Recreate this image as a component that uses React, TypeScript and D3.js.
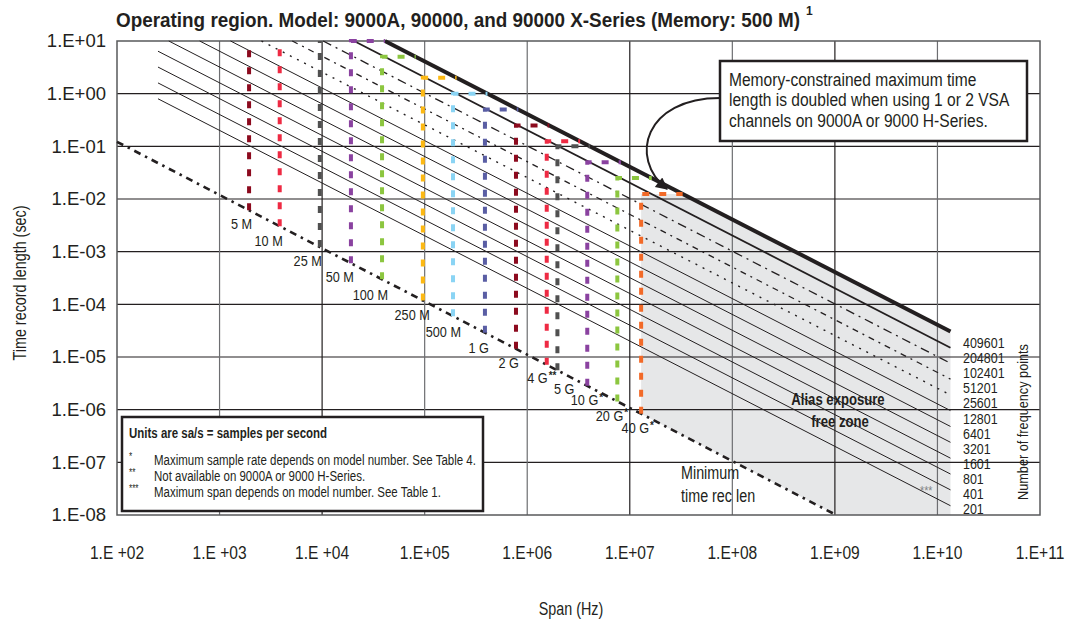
import { useEffect, useRef } from "react";
import * as d3 from "d3";

// axis ticks
const xTickValues = [1e2, 1e3, 1e4, 1e5, 1e6, 1e7, 1e8, 1e9, 1e10, 1e11];
const xTickLabels = ["1.E +02", "1.E +03", "1.E +04", "1.E+05", "1.E+06", "1.E+07", "1.E+08", "1.E+09", "1.E+10", "1.E+11"];
const yTickValues = [1e1, 1e0, 1e-1, 1e-2, 1e-3, 1e-4, 1e-5, 1e-6, 1e-7, 1e-8];
const yTickLabels = ["1.E+01", "1.E+00", "1.E-01", "1.E-02", "1.E-03", "1.E-04", "1.E-05", "1.E-06", "1.E-07", "1.E-08"];

// number of frequency points lines (start point and end point)
const freqPoints = ["201", "401", "801", "1601", "3201", "6401", "12801", "25601", "51201", "102401", "204801", "409601"];
const lineStartSpan = [251, 251, 251, 251, 320, 640, 1280, 2560, 5120, 10240, 20480, 40960];
const lineStartTime = [0.8, 1.6, 3.2, 6.4, 10, 10, 10, 10, 10, 10, 10, 10];
const lineEndSpan = 1.34e10;
const lineEndTime = [1.5e-8, 3.0e-8, 6.0e-8, 1.2e-7, 2.4e-7, 4.8e-7, 9.6e-7, 1.9e-6, 3.8e-6, 7.6e-6, 1.5e-5, 3.06e-5];

// minimum time record length line
const minTimeLine: [number, number][] = [[100, 0.122], [1.03e9, 1e-8]];

// sample rates
const rateLabels = ["5 M", "10 M", "25 M", "50 M", "100 M", "250 M", "500 M", "1 G", "2 G", "4 G", "5 G", "10 G", "20 G", "40 G"];
const rateNotes = ["", "", "", "", "", "", "", "", "", "**", "", "*", "*", "*"];
const rateSpan = [1.94e3, 3.86e3, 9.5e3, 1.91e4, 3.84e4, 9.6e4, 1.89e5, 3.87e5, 7.77e5, 1.55e6, 1.97e6, 3.85e6, 7.56e6, 1.29e7];
const rateMaxTime = [100, 50, 20, 10, 5, 2, 1, 0.5, 0.25, 0.125, 0.1, 0.05, 0.025, 0.0125];
const rateColors = ["#8c0a1e", "#ee2a43", "#505050", "#8a42a0", "#8cc63f", "#fdb913", "#8ad4f4", "#5a5ea4", "#8c0a1e", "#ee2a43", "#505050", "#8a42a0", "#8cc63f", "#f26a28"];

const footnotes = [
  ["*", "Maximum sample rate depends on model number.  See Table 4."],
  ["**", "Not available on 9000A or 9000 H-Series."],
  ["***", "Maximum span depends on model number. See Table 1."],
];
const calloutLines = ["Memory-constrained maximum time", "length is doubled when using 1 or 2 VSA", "channels on 9000A or 9000 H-Series."];

const FONT = "'Liberation Sans', Arial, sans-serif";
const INK = "#231f20";

// label nudges (px) for the sample rate labels
const rateLabelDx = [3, 3, 2, 3, 6, 7, 8, 4, 3, 1, 17, 11, 6, 8];
const rateLabelDy = [13, 14, 14, 13, 15, 14, 15, 15, 14, 13, 18, 14, 14, 14];

type Sel = d3.Selection<any, unknown, null, undefined>;

// condensed text: Liberation Sans squeezed horizontally
const txt = (
  parent: Sel, x: number, y: number, s: string, size: number,
  o: { anchor?: string; bold?: boolean; rot?: number; fill?: string; sx?: number } = {},
) =>
  parent.append("text")
    .attr("transform", `translate(${x},${y})${o.rot ? ` rotate(${o.rot})` : ""} scale(${o.sx ?? 0.82},1)`)
    .attr("dy", "0.35em")
    .attr("text-anchor", o.anchor ?? "start")
    .attr("font-family", FONT)
    .attr("font-size", size)
    .attr("font-weight", o.bold ? "bold" : "normal")
    .attr("fill", o.fill ?? INK)
    .text(s);

const App = () => {
  const ref = useRef<SVGSVGElement>(null);

  useEffect(() => {
    const svg = d3.select(ref.current) as Sel;
    svg.selectAll("*").remove();

    const left = 117, right = 1040, top = 41, bottom = 515;
    const x = d3.scaleLog().domain([1e2, 1e11]).range([left, right]);
    const y = d3.scaleLog().domain([1e-8, 1e1]).range([bottom, top]);
    const line = d3.line<[number, number]>().x((d) => x(d[0])).y((d) => y(d[1]));

    // log-log interpolation along a straight line
    const along = (p: [number, number][], span: number) => {
      const t = (Math.log10(span) - Math.log10(p[0][0])) / (Math.log10(p[1][0]) - Math.log10(p[0][0]));
      return 10 ** (Math.log10(p[0][1]) + t * (Math.log10(p[1][1]) - Math.log10(p[0][1])));
    };
    const thick: [number, number][] = [[lineStartSpan[11], lineStartTime[11]], [lineEndSpan, lineEndTime[11]]];
    const thickSpanAt = (time: number) => {
      const t = (Math.log10(time) - Math.log10(thick[0][1])) / (Math.log10(thick[1][1]) - Math.log10(thick[0][1]));
      return 10 ** (Math.log10(thick[0][0]) + t * (Math.log10(thick[1][0]) - Math.log10(thick[0][0])));
    };

    svg.append("rect").attr("width", 1082).attr("height", 625).attr("fill", "#fff");

    // alias exposure free zone
    const last = rateSpan.length - 1;
    const zone: [number, number][] = [
      [rateSpan[last], rateMaxTime[last]],
      [thickSpanAt(rateMaxTime[last]), rateMaxTime[last]],
      [lineEndSpan, lineEndTime[11]],
      [lineEndSpan, 1e-8],
      [minTimeLine[1][0], 1e-8],
      [rateSpan[last], along(minTimeLine, rateSpan[last])],
    ];
    svg.append("path").attr("d", line(zone) + "Z").attr("fill", "#e6e7e8");

    // grid
    const g = svg.append("g");
    yTickValues.slice(1, -1).forEach((v) => {
      g.append("line").attr("x1", left).attr("x2", right).attr("y1", y(v)).attr("y2", y(v))
        .attr("stroke", INK).attr("stroke-width", 1.2);
    });
    xTickValues.slice(1, -1).forEach((v, i) => {
      g.append("line").attr("x1", x(v)).attr("x2", x(v)).attr("y1", top).attr("y2", bottom)
        .attr("stroke", [1, 4, 6].includes(i) ? INK : "#6d6e71").attr("stroke-width", 1.2);
    });
    g.append("rect").attr("x", left).attr("y", top).attr("width", right - left).attr("height", bottom - top)
      .attr("fill", "none").attr("stroke", "#58595b").attr("stroke-width", 1.5);

    // frequency point lines
    const styles = freqPoints.map((_, i) => {
      if (i === 11) return { w: 4, dash: null };
      if (i === 10) return { w: 1.8, dash: null };
      if (i === 9) return { w: 1.3, dash: "9 5 2 5" };
      if (i === 8) return { w: 1.3, dash: "6 5 2 5" };
      if (i === 7) return { w: 1.4, dash: "2 6" };
      return { w: 1, dash: null };
    });
    freqPoints.forEach((_, i) => {
      svg.append("path")
        .attr("d", line([[lineStartSpan[i], lineStartTime[i]], [lineEndSpan, lineEndTime[i]]]))
        .attr("fill", "none").attr("stroke", INK)
        .attr("stroke-width", styles[i].w)
        .attr("stroke-dasharray", styles[i].dash);
    });

    // minimum time record length
    svg.append("path").attr("d", line(minTimeLine)).attr("fill", "none")
      .attr("stroke", INK).attr("stroke-width", 2.6).attr("stroke-dasharray", "7 5 2.5 5");

    // sample rate bounds
    rateSpan.forEach((s, i) => {
      const lvl = rateMaxTime[i];
      const pts: [number, number][] = [[s, along(minTimeLine, s)], [s, Math.min(lvl, 10)]];
      if (lvl <= 10) pts.push([thickSpanAt(lvl), lvl]);
      svg.append("path").attr("d", line(pts)).attr("fill", "none")
        .attr("stroke", rateColors[i]).attr("stroke-width", 4).attr("stroke-dasharray", "7 10");
    });

    // sample rate labels
    rateLabels.forEach((lab, i) => {
      const xe = x(rateSpan[i]) + rateLabelDx[i];
      const ye = y(along(minTimeLine, rateSpan[i])) + rateLabelDy[i];
      txt(svg, xe, ye, lab, 15.5, { anchor: "end" });
      if (rateNotes[i]) txt(svg, xe + 1, ye - 3, rateNotes[i], 11, { sx: 0.9, bold: true });
    });

    // frequency point labels
    const labelY = d3.scaleLinear().domain([0, 11]).range([509, 343]);
    freqPoints.forEach((n, i) => txt(svg, 963, labelY(i), n, 14.5, { sx: 0.86 }));
    txt(svg, 1023, 422, "Number of frequency points", 15.5, { anchor: "middle", rot: -90 });

    // zone texts
    txt(svg, 838, 399, "Alias exposure", 16, { anchor: "middle", bold: true });
    txt(svg, 840, 421, "free zone", 16, { anchor: "middle", bold: true });
    txt(svg, 681, 473, "Minimum", 17.5);
    txt(svg, 681, 496, "time rec len", 17.5);
    txt(svg, 920, 490, "***", 13, { fill: "#808285" });

    // footnote box
    svg.append("rect").attr("x", 122).attr("y", 417).attr("width", 361).attr("height", 94)
      .attr("fill", "#fff").attr("stroke", INK).attr("stroke-width", 2.5);
    txt(svg, 129, 433, "Units are sa/s = samples per second", 14, { bold: true });
    footnotes.forEach((f, i) => {
      const yy = 460 + i * 16.2;
      txt(svg, 129, yy - 4, f[0], 10);
      txt(svg, 154, yy, f[1], 14);
    });

    // callout
    const defs = svg.append("defs");
    defs.append("marker").attr("id", "ah").attr("viewBox", "0 0 10 10").attr("refX", 9).attr("refY", 5)
      .attr("markerUnits", "userSpaceOnUse").attr("markerWidth", 14).attr("markerHeight", 12).attr("orient", "auto")
      .append("path").attr("d", "M0,0 L10,5 L0,10 Z").attr("fill", INK);
    svg.append("path").attr("d", "M720,98 C645,98 628,158 667,189").attr("fill", "none")
      .attr("stroke", INK).attr("stroke-width", 2).attr("marker-end", "url(#ah)");
    svg.append("rect").attr("x", 720).attr("y", 61).attr("width", 307).attr("height", 80)
      .attr("fill", "#fff").attr("stroke", INK).attr("stroke-width", 2.5);
    calloutLines.forEach((t, i) => txt(svg, 729, 79 + i * 20.7, t, 19));

    // axes labels
    xTickValues.forEach((v, i) => txt(svg, x(v), 552, xTickLabels[i], 19, { anchor: "middle" }));
    yTickValues.forEach((v, i) => txt(svg, 106, y(v), yTickLabels[i], 18.5, { anchor: "end", sx: 1 }));
    txt(svg, 571, 609, "Span (Hz)", 17.5, { anchor: "middle" });
    txt(svg, 20, 283, "Time record length (sec)", 17.5, { anchor: "middle", rot: -90 });

    // title
    svg.append("text").attr("x", 116).attr("y", 27).attr("font-family", FONT)
      .attr("font-size", 20).attr("font-weight", "bold").attr("fill", INK)
      .attr("textLength", 684).attr("lengthAdjust", "spacingAndGlyphs")
      .text("Operating region. Model: 9000A, 90000, and 90000 X-Series (Memory: 500 M)");
    svg.append("text").attr("x", 806).attr("y", 15).attr("font-family", FONT)
      .attr("font-size", 12).attr("font-weight", "bold").attr("fill", INK).text("1");

    return () => {
      svg.selectAll("*").remove();
    };
  }, []);

  return <svg ref={ref} width={1082} height={625} style={{ position: "absolute", left: 0, top: 0 }} />;
};

export default App;
